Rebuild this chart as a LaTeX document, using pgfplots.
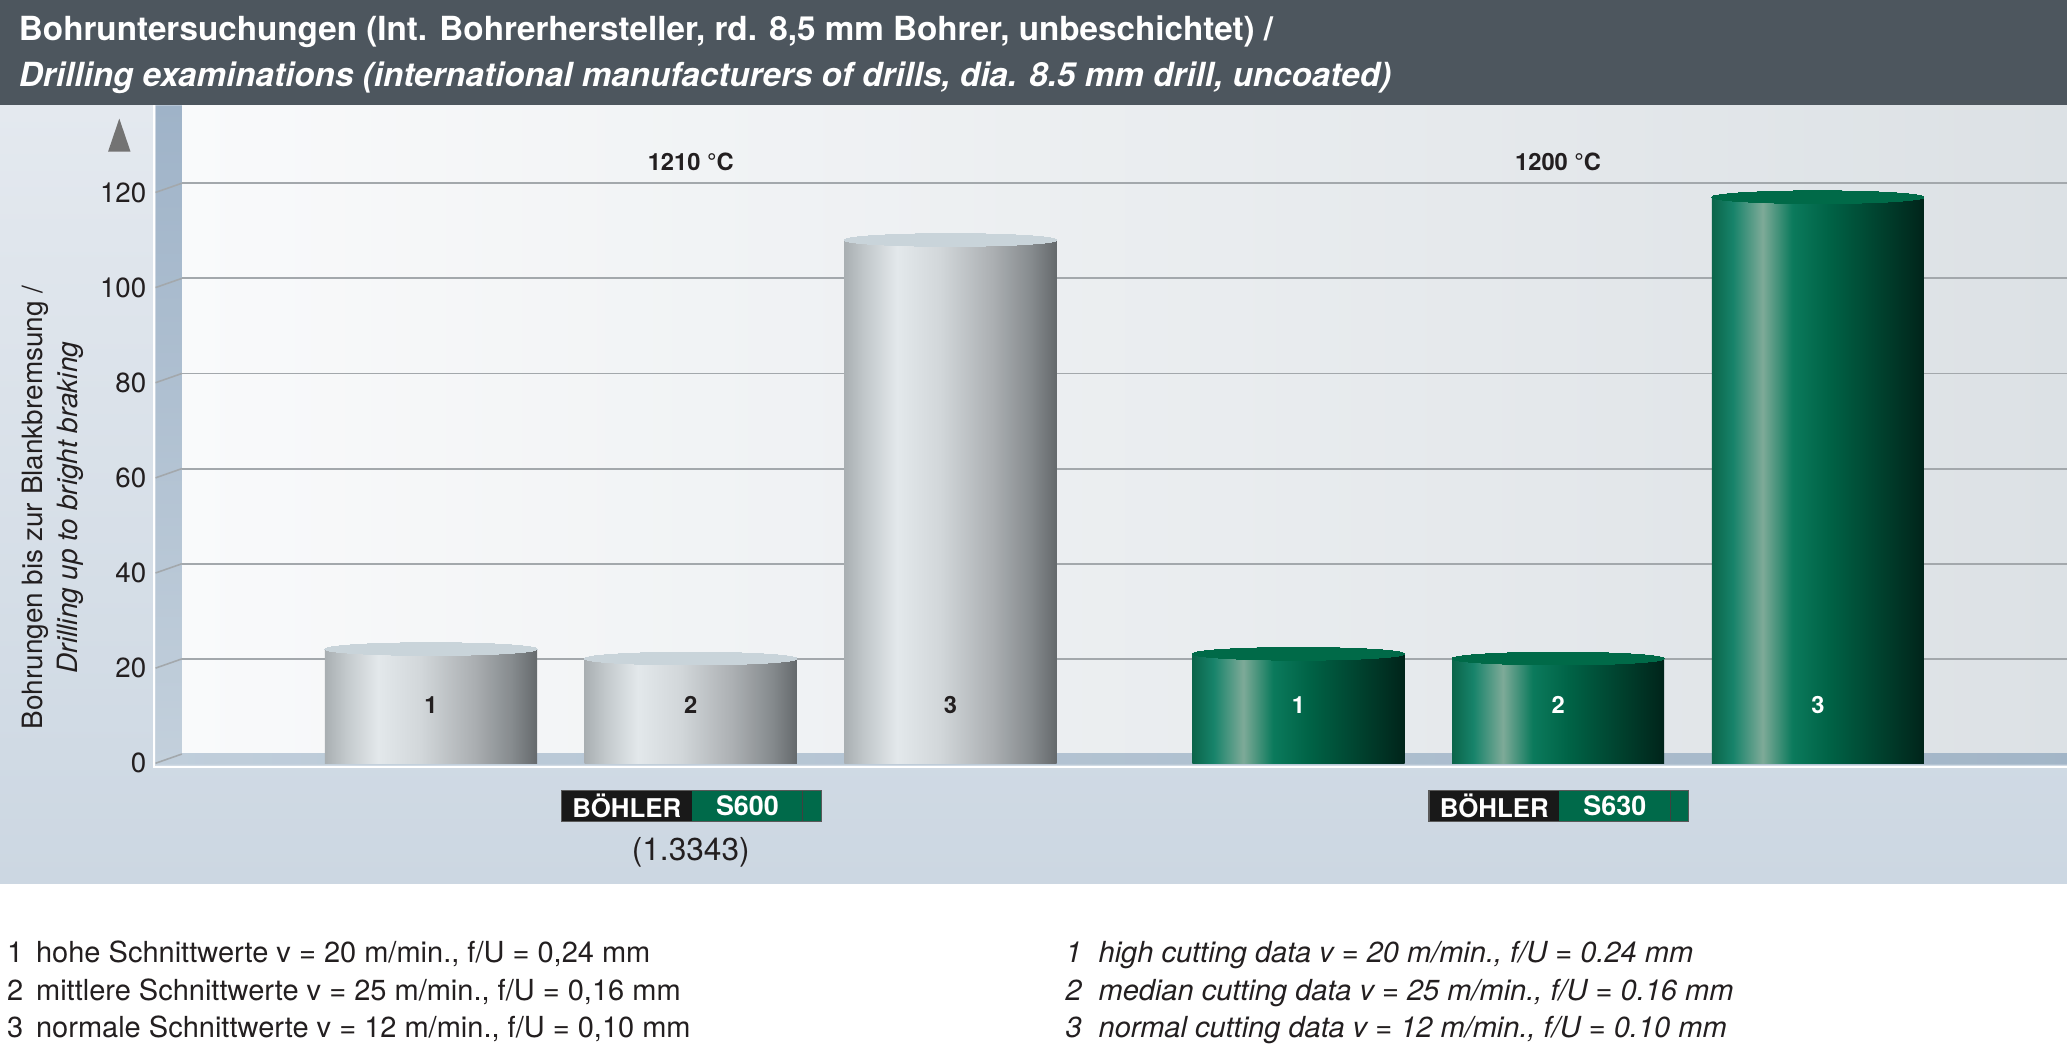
\documentclass[border=0pt]{standalone}
\usepackage{fontspec}
\setmainfont{TeX Gyre Heros}
\usepackage{pgfplots}
\pgfplotsset{compat=1.18}
\usetikzlibrary{calc}

\definecolor{hdr}{HTML}{4D565E}
\definecolor{panelT}{HTML}{E4E9EF}
\definecolor{panelB}{HTML}{CCD7E2}
\definecolor{wallL}{HTML}{F9FAFB}
\definecolor{wallR}{HTML}{DCE1E5}
\definecolor{stripT}{HTML}{9FB3C8}
\definecolor{stripB}{HTML}{C3D0DC}
\definecolor{floorL}{HTML}{C0CEDB}
\definecolor{floorR}{HTML}{A2B5C7}
\definecolor{gridgray}{HTML}{A3A8AC}
\definecolor{txt}{HTML}{231F20}
\definecolor{bgreen}{HTML}{006A4A}
% silver cylinder
\definecolor{s0}{HTML}{A9AFB2}
\definecolor{s1}{HTML}{C3C9CC}
\definecolor{s2}{HTML}{E3E8EB}
\definecolor{s3}{HTML}{D2D7DA}
\definecolor{s4}{HTML}{ABAFB2}
\definecolor{s5}{HTML}{868B8E}
\definecolor{s6}{HTML}{65696C}
\definecolor{stop}{HTML}{C9D4DA}
% green cylinder
\definecolor{g0}{HTML}{0B654A}
\definecolor{g1}{HTML}{17836A}
\definecolor{g2}{HTML}{7EAA98}
\definecolor{g3}{HTML}{0B7A5C}
\definecolor{g4}{HTML}{006346}
\definecolor{g5}{HTML}{00402D}
\definecolor{g6}{HTML}{00241A}
\definecolor{gtop}{HTML}{006A48}

% TikZ maps the path's width onto 25bp..75bp of a shading
\pgfdeclarehorizontalshading{silver}{100bp}{color(0bp)=(s0); color(25bp)=(s0); color(30bp)=(s1); color(37.5bp)=(s2); color(47.5bp)=(s3); color(60bp)=(s4); color(69bp)=(s5); color(75bp)=(s6); color(100bp)=(s6)}
\pgfdeclarehorizontalshading{greencyl}{100bp}{color(0bp)=(g0); color(25bp)=(g0); color(30bp)=(g1); color(37bp)=(g2); color(44bp)=(g3); color(52.5bp)=(g4); color(65bp)=(g5); color(75bp)=(g6); color(100bp)=(g6)}

\pgfplotstableread{
x    y
1    24
2    22
3    110
}\sixhundred
\pgfplotstableread{
x     y
4.340 23
5.340 22
6.340 119
}\sixthirty

\newcommand{\logo}[2]{% x of left edge, label
  \fill[black!90] (#1,91.5pt) rectangle ++(49.5pt,11.5pt);
  \fill[bgreen] ($(#1,91.5pt)+(49.5pt,0)$) rectangle ++(49pt,11.5pt);
  \draw[black!75,line width=0.5pt] ($(#1,91.5pt)+(91.5pt,0)$) -- ++(0,11.5pt);
  \draw[black!65,line width=0.4pt] (#1,91.5pt) rectangle ++(98.5pt,11.5pt);
  \node[white,font=\fontsize{9.8}{10}\selectfont\bfseries] at ($(#1,97.25pt)+(24.75pt,0)$) {BÖHLER};
  \node[white,font=\fontsize{10.2}{10}\selectfont\bfseries] at ($(#1,97.25pt)+(70.5pt,0)$) {#2};
}

\begin{document}
\begin{tikzpicture}
% panels
\fill[white] (0,0) rectangle (784pt,403pt);
\shade[top color=panelT,bottom color=panelB] (0,68pt) rectangle (784pt,363pt);
\fill[hdr] (0,363pt) rectangle (784pt,403pt);
\shade[left color=wallL,right color=wallR] (69pt,117pt) rectangle (784pt,363pt);
\shade[top color=stripT,bottom color=stripB] (59pt,113pt) -- (59pt,363pt) -- (69pt,363pt) -- (69pt,117pt) -- cycle;
\draw[white,line width=0.8pt] (58.4pt,363pt) -- (58.4pt,112.2pt) -- (784pt,112.2pt);

% title
\node[anchor=base west,inner sep=0,white,font=\fontsize{12.6}{14}\selectfont\bfseries] at (7pt,387.5pt)
  {Bohruntersuchungen (Int. Bohrerhersteller, rd. 8,5 mm Bohrer, unbeschichtet) /};
\node[anchor=base west,inner sep=0,white,font=\fontsize{12.6}{14}\selectfont\bfseries\itshape] at (7pt,370pt)
  {Drilling examinations (international manufacturers of drills, dia. 8.5 mm drill, uncoated)};

% y label and arrow
\node[rotate=90,align=center,text=txt,font=\fontsize{10.6}{13}\selectfont] at (20pt,210.5pt)
  {Bohrungen bis zur Blankbremsung /\\ \itshape Drilling up to bright braking};
\fill[black!55] (41pt,345.5pt) -- (49.5pt,345.5pt) -- (45.25pt,358pt) -- cycle;

\begin{axis}[
  at={(59pt,113.5pt)}, anchor=south west,
  x=98.5pt, y=1.8042pt,
  xmin=-0.0609, xmax=7.2995, ymin=0, ymax=138.3,
  axis line style={draw=none},
  xtick=\empty, ytick={0,20,...,120},
  major tick length=0pt,
  ymajorgrids,
  major grid style={draw=gridgray,line width=0.7pt,xshift=10pt,yshift=3.5pt},
  yticklabel style={font=\fontsize{10.5}{12}\selectfont,text=txt},
  /pgf/number format/assume math mode=true,
  clip=false,
]
% floor
\shade[left color=floorL,right color=floorR]
  ([yshift=-0.5pt]axis cs:-0.0609,0) -- ([xshift=10pt,yshift=3.8pt]axis cs:-0.0609,0)
  -- ([xshift=10pt,yshift=3.8pt]axis cs:7.2995,0) -- ([yshift=-0.5pt]axis cs:7.2995,0) -- cycle;
\pgfplotsinvokeforeach{0,20,...,120}{
  \draw[gridgray,line width=0.6pt] (axis cs:-0.0609,#1) -- ++(10pt,3.5pt);
}
% silver cylinders (S600)
\addplot[ybar,bar width=0.817,bar shift=0pt,draw=none,shading=silver] coordinates {(1,24)};
\addplot[ybar,bar width=0.817,bar shift=0pt,draw=none,shading=silver] coordinates {(2,22)};
\addplot[ybar,bar width=0.817,bar shift=0pt,draw=none,shading=silver] coordinates {(3,110)};
\addplot[only marks,color=stop,mark=*,mark size=40.25pt,mark options={draw=stop,fill=stop,line width=0pt,yscale=0.06}]
  table[x=x,y=y] {\sixhundred};
% green cylinders (S630)
\addplot[ybar,bar width=0.817,bar shift=0pt,draw=none,shading=greencyl] coordinates {(4.340,23)};
\addplot[ybar,bar width=0.817,bar shift=0pt,draw=none,shading=greencyl] coordinates {(5.340,22)};
\addplot[ybar,bar width=0.817,bar shift=0pt,draw=none,shading=greencyl] coordinates {(6.340,119)};
\addplot[only marks,color=gtop,mark=*,mark size=40.25pt,mark options={draw=gtop,fill=gtop,line width=0pt,yscale=0.06}]
  table[x=x,y=y] {\sixthirty};

\node[font=\fontsize{9}{10}\selectfont\bfseries,text=txt] at (axis cs:2,126.4) {1210 °C};
\node[font=\fontsize{9}{10}\selectfont\bfseries,text=txt] at (axis cs:5.34,126.4) {1200 °C};
\node[font=\fontsize{9}{10}\selectfont\bfseries,text=txt] at (axis cs:1,12.2) {1};
\node[font=\fontsize{9}{10}\selectfont\bfseries,text=txt] at (axis cs:2,12.2) {2};
\node[font=\fontsize{9}{10}\selectfont\bfseries,text=txt] at (axis cs:3,12.2) {3};
\node[font=\fontsize{9}{10}\selectfont\bfseries,text=white] at (axis cs:4.34,12.2) {1};
\node[font=\fontsize{9}{10}\selectfont\bfseries,text=white] at (axis cs:5.34,12.2) {2};
\node[font=\fontsize{9}{10}\selectfont\bfseries,text=white] at (axis cs:6.34,12.2) {3};
\end{axis}

% logos
\logo{213pt}{S600}
\logo{542pt}{S630}
\node[text=txt,font=\fontsize{12}{13}\selectfont] at (262pt,79.8pt) {(1.3343)};

% footnotes
\begin{scope}[every node/.style={anchor=base west,text=txt,font=\fontsize{11}{12}\selectfont,inner sep=0}]
\node at (2.5pt,38pt) {1}; \node at (13.5pt,38pt) {hohe Schnittwerte v = 20 m/min., f/U = 0,24 mm};
\node at (2.5pt,23.7pt) {2}; \node at (13.5pt,23.7pt) {mittlere Schnittwerte v = 25 m/min., f/U = 0,16 mm};
\node at (2.5pt,9.5pt) {3}; \node at (13.5pt,9.5pt) {normale Schnittwerte v = 12 m/min., f/U = 0,10 mm};
\node at (404pt,38pt) {\itshape 1}; \node at (416.5pt,38pt) {\itshape high cutting data v = 20 m/min., f/U = 0.24 mm};
\node at (404pt,23.7pt) {\itshape 2}; \node at (416.5pt,23.7pt) {\itshape median cutting data v = 25 m/min., f/U = 0.16 mm};
\node at (404pt,9.5pt) {\itshape 3}; \node at (416.5pt,9.5pt) {\itshape normal cutting data v = 12 m/min., f/U = 0.10 mm};
\end{scope}

\pgfresetboundingbox
\useasboundingbox (0,0) rectangle (784pt,403pt);
\end{tikzpicture}
\end{document}
